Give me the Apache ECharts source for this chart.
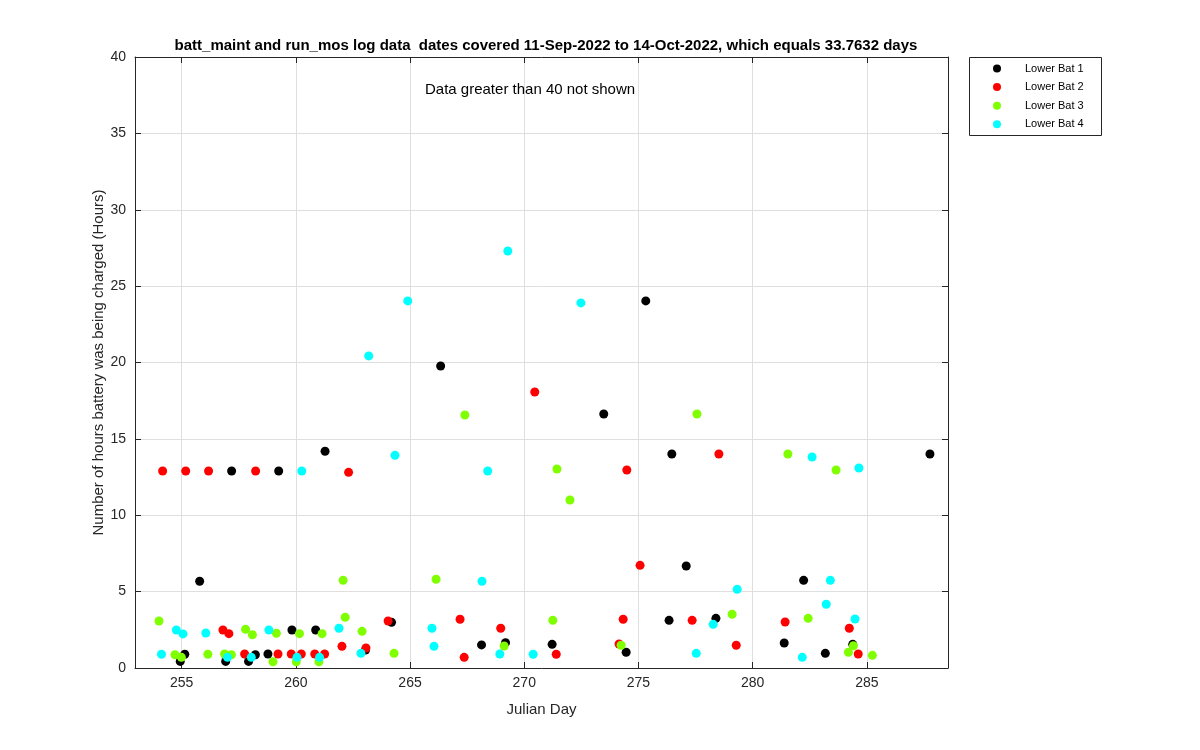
<!DOCTYPE html>
<html>
<head>
<meta charset="utf-8">
<script src="https://cdn.jsdelivr.net/npm/echarts@6/dist/echarts.min.js"></script>
<style>html,body{margin:0;padding:0;background:#fff;}#c{width:1200px;height:750px;}</style>
</head>
<body>
<div id="c"></div>
<script>
var seriesNames = ['Lower Bat 1', 'Lower Bat 2', 'Lower Bat 3', 'Lower Bat 4'];
var seriesColors = ['#000000', '#ff0000', '#80ff00', '#00ffff'];

var bat1 = [[255.79,5.68],[255.14,0.90],[254.94,0.43],[256.93,0.43],[257.19,12.90],[257.93,0.43],[258.23,0.87],[258.78,0.92],[259.25,12.90],[259.83,2.49],[260.87,2.49],[261.28,14.19],[263.05,1.18],[264.19,2.99],[266.34,19.77],[268.13,1.51],[269.18,1.66],[271.22,1.55],[273.48,16.63],[274.46,1.03],[275.32,24.03],[276.34,3.12],[276.46,14.01],[277.09,6.68],[278.39,3.25],[281.38,1.64],[282.23,5.74],[283.18,0.96],[284.38,1.55],[287.76,14.01]];
var bat2 = [[254.17,12.90],[255.18,12.90],[256.18,12.90],[256.81,2.49],[257.07,2.25],[257.76,0.92],[258.24,12.90],[259.22,0.92],[259.80,0.92],[260.24,0.92],[260.83,0.92],[261.26,0.92],[262.02,1.42],[262.31,12.81],[263.07,1.31],[264.04,3.08],[267.19,3.19],[267.37,0.70],[268.97,2.60],[270.46,18.07],[271.40,0.90],[274.15,1.57],[274.33,3.19],[274.49,12.96],[275.07,6.72],[277.35,3.12],[278.52,14.01],[279.28,1.49],[281.42,3.01],[284.23,2.60],[284.62,0.92]];
var bat3 = [[254.01,3.08],[254.71,0.87],[254.99,0.70],[256.15,0.90],[256.88,0.92],[257.18,0.87],[257.80,2.53],[258.10,2.18],[259.00,0.41],[259.15,2.27],[260.02,0.41],[260.16,2.25],[261.01,0.41],[261.15,2.25],[262.07,5.74],[262.16,3.32],[262.90,2.40],[264.30,0.96],[266.14,5.81],[267.40,16.56],[269.12,1.44],[271.25,3.12],[271.43,13.03],[272.00,11.00],[274.24,1.49],[277.56,16.63],[279.10,3.52],[281.54,14.01],[282.43,3.25],[283.65,12.96],[284.19,1.03],[284.41,1.46],[285.24,0.83]];
var bat4 = [[254.12,0.90],[254.77,2.49],[255.06,2.23],[256.06,2.29],[257.01,0.70],[258.05,0.70],[258.82,2.49],[260.05,0.70],[260.26,12.90],[261.04,0.70],[261.89,2.60],[262.85,0.96],[263.19,20.43],[264.34,13.92],[264.90,24.03],[265.96,2.60],[266.05,1.42],[268.15,5.68],[268.40,12.90],[268.93,0.92],[269.28,27.30],[270.39,0.90],[272.48,23.90],[277.53,0.96],[278.27,2.86],[279.32,5.15],[282.17,0.70],[282.60,13.81],[283.22,4.17],[283.40,5.74],[284.48,3.21],[284.65,13.09]];

var xMin = 252.96, xMax = 288.55;
var yMin = 0, yMax = 40, yStep = 5;

var titleText = 'batt_maint and run_mos log data  dates covered 11-Sep-2022 to 14-Oct-2022, which equals 33.7632 days';
var xName = 'Julian Day';
var yName = 'Number of hours battery was being charged (Hours)';
var noteText = 'Data greater than 40 not shown';

var FONT = 'Liberation Sans, Arial, Helvetica, sans-serif';
var AX = '#262626';
var GRIDC = '#dfdfdf';

var chart = echarts.init(document.getElementById('c'), null, {renderer: 'canvas'});
var allData = [bat1, bat2, bat3, bat4];

function xAxisCfg(pos, main) {
  return {
    type: 'value', position: pos, min: xMin, max: xMax, splitNumber: 7,
    name: main ? xName : '', nameLocation: 'middle', nameGap: 34,
    nameTextStyle: {color: AX, fontFamily: FONT, fontSize: 15},
    axisLine: {show: true, onZero: false, lineStyle: {color: AX, width: 1}},
    axisTick: {show: true, inside: true, length: 6, lineStyle: {color: AX}},
    axisLabel: {show: main, color: AX, fontFamily: FONT, fontSize: 14, margin: 8, showMinLabel: false, showMaxLabel: false},
    splitLine: {show: main, lineStyle: {color: GRIDC, width: 1}}
  };
}
function yAxisCfg(pos, main) {
  return {
    type: 'value', position: pos, min: yMin, max: yMax, interval: yStep,
    name: main ? yName : '', nameLocation: 'middle', nameGap: 29, nameRotate: 90,
    nameMoveOverlap: false,
    nameTextStyle: {color: AX, fontFamily: FONT, fontSize: 15},
    axisLine: {show: true, onZero: false, lineStyle: {color: AX, width: 1}},
    axisTick: {show: true, inside: true, length: 6, lineStyle: {color: AX}},
    axisLabel: {show: main, color: AX, fontFamily: FONT, fontSize: 14, margin: 9},
    splitLine: {show: main, lineStyle: {color: GRIDC, width: 1}}
  };
}

var option = {
  backgroundColor: '#ffffff',
  animation: false,
  title: {
    text: titleText, left: 541, top: 33, textAlign: 'center',
    textStyle: {fontFamily: FONT, fontSize: 15, fontWeight: 'bold', color: '#000'}
  },
  grid: {left: 135, right: 252, top: 57, bottom: 82, containLabel: false},
  legend: {
    orient: 'vertical', left: 993, top: 63,
    itemWidth: 46, itemHeight: 8, itemGap: 7.6,
    icon: 'circle', symbolKeepAspect: true,
    padding: 0,
    textStyle: {fontFamily: FONT, fontSize: 11, color: '#000'},
    data: seriesNames
  },
  graphic: [
    {type: 'rect', shape: {x: 969.5, y: 57.5, width: 132, height: 78},
     style: {fill: 'none', stroke: AX, lineWidth: 1}, silent: true, z: 100},
    {type: 'text', left: 425, top: 82, style: {text: noteText, fontFamily: FONT, fontSize: 15, fill: '#000'}, z: 100}
  ],
  xAxis: [xAxisCfg('bottom', true), xAxisCfg('top', false)],
  yAxis: [yAxisCfg('left', true), yAxisCfg('right', false)],
  series: seriesNames.map(function (n, i) {
    return {
      name: n, type: 'scatter', xAxisIndex: 0, yAxisIndex: 0,
      symbol: 'circle', symbolSize: 9,
      itemStyle: {color: seriesColors[i], opacity: 1},
      data: allData[i], z: 2 + i
    };
  })
};
chart.setOption(option);
</script>
</body>
</html>
